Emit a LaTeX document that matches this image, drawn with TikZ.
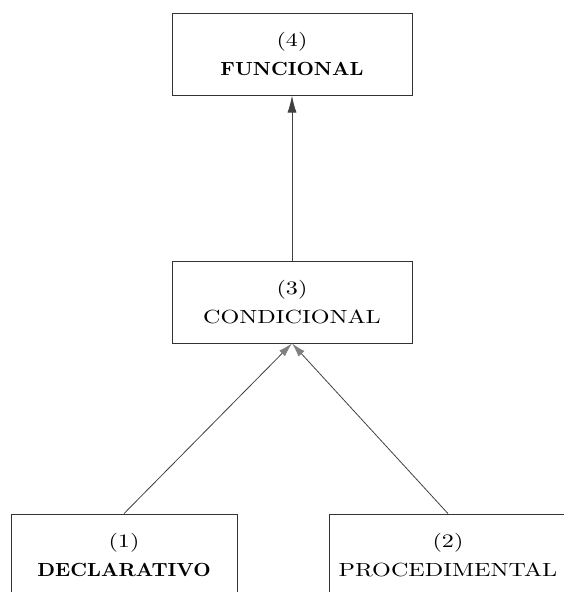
\documentclass[tikz,border=0pt]{standalone}
\usepackage{fontspec}
\usepackage{tikz}
\usetikzlibrary{arrows.meta,positioning}
\newfontfamily\widerm{lmroman10-regular.otf}[FakeStretch=1.27]
\newfontfamily\widebf{lmroman10-bold.otf}[FakeStretch=1.06]

\begin{document}
\begin{tikzpicture}[x=1pt, y=1pt, >={Latex[length=17pt,width=9pt]},
  box/.style={draw=black!80, line width=0.8pt, align=center, minimum height=82pt,
    minimum width=240pt, font=\fontsize{19}{29}\widerm},
  link/.style={->, draw=black!75, line width=0.8pt},
  uplink/.style={link, -{Latex[length=14pt,width=8pt,color=black!50]}}]
  \useasboundingbox (0,0) rectangle (563,592);
  \node[box] (cond) at (292,290) {(3)\\ CONDICIONAL};
  \node[box, above=165pt of cond] (func) {(4)\\ {\widebf FUNCIONAL}};
  \node[box, minimum width=226pt] (decl) at (124,37) {(1)\\ {\widebf DECLARATIVO}};
  \node[box, minimum width=238pt] (proc) at (448,37) {(2)\\ PROCEDIMENTAL};
  \draw[link] (cond) -- (func);
  \draw[uplink] (decl.north) -- (cond.south);
  \draw[uplink] (proc.north) -- (cond.south);
\end{tikzpicture}
\end{document}
